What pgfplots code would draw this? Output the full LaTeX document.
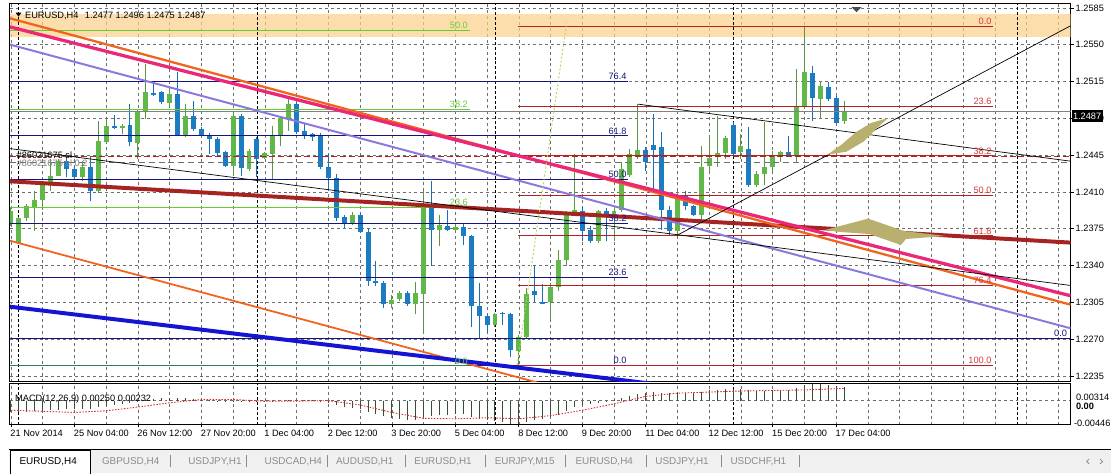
\documentclass[border=0pt]{standalone}
\usepackage{pgfplots}
\pgfplotsset{compat=1.18}
\usepackage{pgfplotstable}
\usepackage{fontspec}
\setmainfont{Liberation Sans}
\newcommand{\lbl}{\fontsize{9.3}{10}\selectfont}
\newcommand{\tabf}{\fontsize{10}{11}\selectfont}

\definecolor{bandcol}{RGB}{250,208,136}
\definecolor{limeg}{RGB}{102,204,51}
\definecolor{dkgreen}{RGB}{46,130,87}
\definecolor{navyc}{RGB}{20,20,128}
\definecolor{fibred}{RGB}{178,34,34}
\definecolor{fibredtxt}{RGB}{215,60,60}
\definecolor{orangeA}{RGB}{240,100,30}
\definecolor{magentaA}{RGB}{235,40,120}
\definecolor{purpleA}{RGB}{140,120,220}
\definecolor{darkredA}{RGB}{165,35,35}
\definecolor{blueA}{RGB}{20,20,210}
\definecolor{bullbody}{RGB}{96,184,72}
\definecolor{bullwick}{RGB}{90,150,70}
\definecolor{bearbody}{RGB}{28,124,194}
\definecolor{bearwick}{RGB}{28,110,180}
\definecolor{olivec}{RGB}{185,176,112}
\definecolor{dotgreen}{RGB}{170,220,90}
\definecolor{macdbar}{RGB}{50,80,50}
\definecolor{sigred}{RGB}{220,40,40}
\definecolor{gridc}{RGB}{110,110,110}
\definecolor{tabbg}{RGB}{240,240,240}
\definecolor{tabtxt}{RGB}{140,140,140}

\pgfplotstableread{
n O H L C
-1 1.23802 1.23944 1.23774 1.23915
0 1.23614 1.23859 1.23604 1.23850
1 1.23850 1.23982 1.23821 1.23963
2 1.23944 1.24113 1.23727 1.24019
3 1.24019 1.24180 1.23925 1.24161
4 1.24161 1.24416 1.24104 1.24255
5 1.24255 1.24416 1.24255 1.24397
8 1.24246 1.24397 1.24208 1.24340
10 1.24104 1.24774 1.24085 1.24585
11 1.24576 1.24793 1.24576 1.24727
13 1.24708 1.24746 1.24651 1.24727
15 1.24567 1.24887 1.24416 1.24859
16 1.24859 1.25312 1.24793 1.25048
19 1.24944 1.25095 1.24906 1.25029
21 1.24633 1.24934 1.24623 1.24821
27 1.24350 1.24868 1.24255 1.24821
29 1.24321 1.24510 1.24302 1.24491
31 1.24425 1.24482 1.24416 1.24472
32 1.24463 1.24727 1.24227 1.24633
33 1.24633 1.24821 1.24538 1.24802
34 1.24793 1.25000 1.24680 1.24934
42 1.23802 1.23906 1.23783 1.23878
47 1.23029 1.23123 1.22991 1.23076
48 1.23085 1.23161 1.23066 1.23142
50 1.23029 1.23246 1.22934 1.23142
51 1.23133 1.24104 1.22746 1.23972
53 1.23736 1.23878 1.23585 1.23783
55 1.23736 1.23802 1.23717 1.23765
60 1.22831 1.22944 1.22812 1.22934
63 1.22586 1.22737 1.22454 1.22718
64 1.22718 1.23189 1.22699 1.23133
67 1.23048 1.23236 1.22887 1.23198
68 1.23198 1.23548 1.23161 1.23453
69 1.23453 1.23915 1.23397 1.23906
70 1.23897 1.24463 1.23878 1.23925
73 1.23633 1.23925 1.23614 1.23915
75 1.23868 1.23963 1.23633 1.23915
76 1.23925 1.24387 1.23906 1.24321
77 1.24265 1.24510 1.24246 1.24463
78 1.24434 1.24934 1.24416 1.24500
83 1.23727 1.24104 1.23689 1.24057
86 1.23878 1.24538 1.23831 1.24340
87 1.24350 1.24633 1.24302 1.24425
88 1.24434 1.24821 1.24340 1.24472
89 1.24472 1.24633 1.24416 1.24614
91 1.24482 1.24651 1.24416 1.24538
93 1.24161 1.24302 1.24142 1.24274
94 1.24274 1.24765 1.24161 1.24340
95 1.24340 1.24491 1.24302 1.24453
96 1.24434 1.24491 1.24387 1.24482
98 1.24444 1.25265 1.24387 1.24906
99 1.24906 1.25670 1.24887 1.25236
101 1.24982 1.25152 1.24793 1.25105
104 1.24770 1.24960 1.24750 1.24870
}\bull

\pgfplotstableread{
n O H L C
6 1.24397 1.24434 1.24246 1.24321
7 1.24321 1.24350 1.24227 1.24246
9 1.24340 1.24444 1.24010 1.24104
12 1.24727 1.24831 1.24699 1.24708
14 1.24736 1.24934 1.24538 1.24576
17 1.25038 1.25152 1.25010 1.25019
18 1.25048 1.25057 1.24934 1.24953
20 1.25029 1.25236 1.24633 1.24633
22 1.24821 1.24963 1.24680 1.24699
23 1.24699 1.24717 1.24633 1.24642
24 1.24642 1.24661 1.24463 1.24604
25 1.24604 1.24623 1.24434 1.24472
26 1.24482 1.24491 1.24340 1.24350
28 1.24821 1.24840 1.24255 1.24331
30 1.24604 1.24623 1.24246 1.24416
35 1.24934 1.24953 1.24651 1.24670
36 1.24680 1.24746 1.24604 1.24642
37 1.24651 1.24661 1.24585 1.24623
38 1.24642 1.24661 1.24321 1.24340
39 1.24340 1.24463 1.24132 1.24236
40 1.24236 1.24274 1.23821 1.23850
41 1.23859 1.23878 1.23755 1.23802
43 1.23878 1.23897 1.23708 1.23717
44 1.23717 1.23755 1.23208 1.23255
45 1.23255 1.23444 1.23208 1.23236
46 1.23236 1.23255 1.23000 1.23029
49 1.23142 1.23161 1.23019 1.23029
52 1.23972 1.24199 1.23397 1.23736
54 1.23774 1.23925 1.23727 1.23736
56 1.23765 1.23802 1.23595 1.23680
57 1.23680 1.23689 1.22812 1.23010
58 1.23010 1.23236 1.22708 1.22916
59 1.22916 1.22934 1.22756 1.22831
61 1.22944 1.22953 1.22831 1.22934
62 1.22934 1.22944 1.22529 1.22595
65 1.23161 1.23406 1.23048 1.23123
66 1.23048 1.23227 1.23029 1.23038
71 1.23915 1.23963 1.23633 1.23727
72 1.23736 1.23774 1.23614 1.23633
74 1.23915 1.23944 1.23633 1.23868
79 1.24500 1.24529 1.24302 1.24387
80 1.24548 1.24840 1.24132 1.24500
81 1.24529 1.24670 1.23736 1.23925
82 1.23925 1.23963 1.23689 1.23727
84 1.24057 1.24104 1.23925 1.23963
85 1.23963 1.23972 1.23868 1.23878
90 1.24736 1.24765 1.24444 1.24463
92 1.24510 1.24717 1.24151 1.24161
97 1.24482 1.24633 1.24434 1.24434
100 1.25227 1.25293 1.24774 1.24991
102 1.25095 1.25142 1.24963 1.24982
103 1.24991 1.25010 1.24746 1.24755
}\bear

\pgfplotstableread{
n v
-1 -0.0021
0 -0.0021
1 -0.0021
2 -0.0020
3 -0.0019
4 -0.0018
5 -0.0017
6 -0.0016
7 -0.0016
8 -0.0015
9 -0.0015
10 -0.0012
11 -0.0010
12 -0.0008
13 -0.0007
14 -0.0005
15 -0.0003
16 0.0001
17 0.0003
18 0.0004
19 0.0005
20 0.0004
21 0.0004
22 0.0003
23 0.0002
24 0.0001
25 -0.0001
26 -0.0002
27 -0.0001
28 -0.0002
29 -0.0002
30 -0.0002
31 -0.0002
32 -0.0001
33 0.0000
34 0.0002
35 0.0002
36 0.0001
37 0.0001
38 -0.0001
39 -0.0004
40 -0.0008
41 -0.0011
42 -0.0013
43 -0.0015
44 -0.0021
45 -0.0025
46 -0.0029
47 -0.0032
48 -0.0034
49 -0.0036
50 -0.0037
51 -0.0031
52 -0.0029
53 -0.0027
54 -0.0026
55 -0.0025
56 -0.0025
57 -0.0030
58 -0.0034
59 -0.0037
60 -0.0038
61 -0.0039
62 -0.0043
63 -0.0044
64 -0.0040
65 -0.0037
66 -0.0034
67 -0.0031
68 -0.0026
69 -0.0019
70 -0.0012
71 -0.0009
72 -0.0007
73 -0.0004
74 -0.0002
75 0.0001
76 0.0005
77 0.0009
78 0.0012
79 0.0014
80 0.0016
81 0.0015
82 0.0014
83 0.0015
84 0.0015
85 0.0015
86 0.0017
87 0.0019
88 0.0020
89 0.0022
90 0.0021
91 0.0021
92 0.0019
93 0.0018
94 0.0018
95 0.0019
96 0.0019
97 0.0019
98 0.0023
99 0.0029
100 0.0031
101 0.0031
102 0.0030
103 0.0027
104 0.0025
}\macd

\pgfplotstableread{
n s
-1 -0.0018
3 -0.0020
7 -0.0022
11 -0.0019
15 -0.0012
19 -0.0004
23 0.0002
27 0.0002
31 -0.0001
35 -0.0001
39 0.0000
43 -0.0008
47 -0.0022
51 -0.0033
55 -0.0034
59 -0.0032
63 -0.0034
67 -0.0028
71 -0.0018
75 -0.0006
79 0.0008
83 0.0014
87 0.0016
91 0.0018
95 0.0019
99 0.0020
104 0.0023
}\signal

\begin{document}
\begin{tikzpicture}[x=1pt,y=1pt]
\fill[white] (0,0) rectangle (1111,472);

% ================= main price pane =================
\begin{axis}[
  name=main,
  at={(1.5,87)}, anchor=south west,
  scale only axis, width=1069.5pt, height=382pt,
  xmin=-1.15, xmax=132.5375, ymin=1.222929, ymax=1.258967,
  axis line style={black, line width=0.8pt},
  xtick={-1,3,...,131}, xticklabels={}, xtick style={draw=none},
  ytick={1.2235,1.2270,1.2305,1.2340,1.2375,1.2410,1.2445,1.2480,1.2515,1.2550,1.2585},
  yticklabels={1.2235,1.2270,1.2305,1.2340,1.2375,1.2410,1.2445,1.2480,1.2515,1.2550,1.2585},
  ytick pos=right, yticklabel pos=right,
  tick align=outside, major tick length=3pt,
  ytick style={black, line width=0.6pt},
  yticklabel style={anchor=west, font=\lbl, inner sep=0pt, xshift=2pt},
  scaled y ticks=false,
  grid=major,
  grid style={gridc, line width=0.5pt, dash pattern=on 3pt off 3pt},
]
% background band (translucent so the grid shows through)
\addplot[draw=none, fill=bandcol, fill opacity=0.7, forget plot]
  coordinates {(-1.15,1.25576) (132.5375,1.25576) (132.5375,1.25793) (-1.15,1.25793)} -- cycle;
% week separators
\addplot[black, line width=0.9pt, dash pattern=on 3pt off 2pt, forget plot] coordinates {(0,1.222929) (0,1.258967)};
\addplot[black, line width=0.9pt, dash pattern=on 3pt off 2pt, forget plot] coordinates {(30,1.222929) (30,1.258967)};
\addplot[black, line width=0.9pt, dash pattern=on 3pt off 2pt, forget plot] coordinates {(60,1.222929) (60,1.258967)};
\addplot[black, line width=0.9pt, dash pattern=on 3pt off 2pt, forget plot] coordinates {(90,1.222929) (90,1.258967)};
\addplot[black, line width=0.9pt, dash pattern=on 3pt off 2pt, forget plot] coordinates {(125.9,1.222929) (125.9,1.258967)};

% candles: wicks and bodies
\addplot[draw=none, forget plot, error bars/.cd, y dir=plus, y explicit, error mark=none,
  error bar style={draw=bullwick, line width=1pt}]
  table[x=n, y=L, y error expr=\thisrow{H}-\thisrow{L}] {\bull};
\addplot[draw=none, forget plot, error bars/.cd, y dir=plus, y explicit, error mark=none,
  error bar style={draw=bearwick, line width=1pt}]
  table[x=n, y=L, y error expr=\thisrow{H}-\thisrow{L}] {\bear};
\addplot[draw=none, forget plot, error bars/.cd, y dir=plus, y explicit, error mark=none,
  error bar style={draw=bullbody, line width=5pt, line cap=butt}]
  table[x=n, y=O, y error expr=\thisrow{C}-\thisrow{O}] {\bull};
\addplot[draw=none, forget plot, error bars/.cd, y dir=plus, y explicit, error mark=none,
  error bar style={draw=bearbody, line width=5pt, line cap=butt}]
  table[x=n, y=C, y error expr=\thisrow{O}-\thisrow{C}] {\bear};

% bid line and order lines
\addplot[gray, line width=0.7pt, forget plot] coordinates {(-1.15,1.2487) (132.5375,1.2487)};
\addplot[fibred, line width=0.8pt, dash pattern=on 6pt off 3pt, forget plot] coordinates {(-1.15,1.24440) (132.5375,1.24440)};
\addplot[gridc, line width=0.8pt, dash pattern=on 6pt off 4pt, forget plot] coordinates {(-1.15,1.24378) (132.5375,1.24378)};

% navy fibonacci levels
\addplot[navyc, line width=0.9pt, forget plot] coordinates {(-1.15,1.25149) (76.79,1.25149)};
\addplot[navyc, line width=0.9pt, forget plot] coordinates {(-1.15,1.24633) (76.79,1.24633)};
\addplot[navyc, line width=0.9pt, forget plot] coordinates {(-1.15,1.24216) (76.79,1.24216)};
\addplot[navyc, line width=0.9pt, forget plot] coordinates {(-1.15,1.23800) (76.79,1.23800)};
\addplot[navyc, line width=0.9pt, forget plot] coordinates {(-1.15,1.23284) (76.79,1.23284)};
\addplot[navyc, line width=0.9pt, forget plot] coordinates {(-1.15,1.22449) (76.79,1.22449)};
\addplot[navyc, line width=0.8pt, forget plot] coordinates {(-1.15,1.227108) (132.5375,1.227108)};
% green fibonacci levels
\addplot[limeg, line width=0.9pt, forget plot] coordinates {(-1.15,1.25636) (56.79,1.25636)};
\addplot[limeg, line width=0.9pt, forget plot] coordinates {(-1.15,1.24883) (56.79,1.24883)};
\addplot[limeg, line width=0.9pt, forget plot] coordinates {(-1.15,1.23951) (56.79,1.23951)};
\addplot[dkgreen, line width=0.9pt, forget plot] coordinates {(-1.15,1.22445) (56.79,1.22445)};
% red fibonacci levels
\addplot[fibred, line width=0.9pt, forget plot] coordinates {(62.9,1.25675) (122.79,1.25675)};
\addplot[fibred, line width=0.9pt, forget plot] coordinates {(62.9,1.24914) (122.79,1.24914)};
\addplot[fibred, line width=0.9pt, forget plot] coordinates {(62.9,1.24443) (122.79,1.24443)};
\addplot[fibred, line width=0.9pt, forget plot] coordinates {(62.9,1.24063) (122.79,1.24063)};
\addplot[fibred, line width=0.9pt, forget plot] coordinates {(62.9,1.23682) (122.79,1.23682)};
\addplot[fibred, line width=0.9pt, forget plot] coordinates {(62.9,1.23211) (122.79,1.23211)};
\addplot[fibred, line width=0.9pt, forget plot] coordinates {(62.9,1.22450) (122.79,1.22450)};

% trend lines
\addplot[orangeA, line width=1.8pt, forget plot] coordinates {(-1.15,1.236358) (73.6625,1.221174)};
\addplot[blueA, line width=4pt, forget plot] coordinates {(-1.15,1.230080) (86.1625,1.222174)};
\addplot[darkredA, line width=4pt, forget plot] coordinates {(-1.15,1.242005) (132.5375,1.236174)};
\addplot[purpleA, line width=2pt, forget plot] coordinates {(-1.15,1.255014) (132.5375,1.228023)};
\addplot[orangeA, line width=2.3pt, forget plot] coordinates {(-1.15,1.257514) (132.5375,1.230269)};
\addplot[magentaA, line width=3.3pt, forget plot] coordinates {(-1.15,1.256695) (132.5375,1.231118)};
\addplot[black, line width=0.7pt, forget plot] coordinates {(-1.15,1.245118) (132.5375,1.232099)};
\addplot[black, line width=0.7pt, forget plot] coordinates {(78.0375,1.249344) (132.5375,1.243920)};
\addplot[black, line width=0.7pt, forget plot] coordinates {(83,1.236891) (132.5375,1.256797)};
\addplot[dotgreen, line width=0.9pt, dash pattern=on 2pt off 2pt, forget plot] coordinates {(62.79,1.224533) (69.04,1.257080)};

% olive shapes
\addplot[draw=none, fill=olivec, forget plot] coordinates {
 (101.91,1.244538) (103.66,1.245481) (105.54,1.246708) (107.41,1.247557) (109.54,1.248028)
 (108.04,1.246991) (106.41,1.245764) (104.29,1.244821)} -- cycle;
\addplot[draw=none, fill=olivec, forget plot] coordinates {
 (101.54,1.237368) (107.04,1.238453) (111.54,1.237274) (116.79,1.236802) (111.79,1.236519)
 (111.16,1.235953) (107.16,1.236990) (103.66,1.237179)} -- cycle;

% level labels
\begin{scope}[every node/.style={font=\lbl, inner sep=1.5pt, anchor=south east}]
\node[text=limeg] at (axis cs:56.79,1.25636) {50.0};
\node[text=limeg] at (axis cs:56.79,1.24883) {38.2};
\node[text=limeg] at (axis cs:56.79,1.23951) {23.6};
\node[text=limeg] at (axis cs:56.79,1.22445) {0.0};
\node[text=navyc] at (axis cs:76.79,1.25149) {76.4};
\node[text=navyc] at (axis cs:76.79,1.24633) {61.8};
\node[text=navyc] at (axis cs:76.79,1.24216) {50.0};
\node[text=navyc] at (axis cs:76.79,1.23800) {38.2};
\node[text=navyc] at (axis cs:76.79,1.23284) {23.6};
\node[text=navyc] at (axis cs:76.79,1.22449) {0.0};
\node[text=navyc] at (axis cs:132.3,1.227108) {0.0};
\node[text=fibredtxt] at (axis cs:122.79,1.25675) {0.0};
\node[text=fibredtxt] at (axis cs:122.79,1.24914) {23.6};
\node[text=fibredtxt] at (axis cs:122.79,1.24443) {38.2};
\node[text=fibredtxt] at (axis cs:122.79,1.24063) {50.0};
\node[text=fibredtxt] at (axis cs:122.79,1.23682) {61.8};
\node[text=fibredtxt] at (axis cs:122.79,1.23211) {76.4};
\node[text=fibredtxt] at (axis cs:122.79,1.22450) {100.0};
\end{scope}
\end{axis}

% ================= MACD pane =================
\begin{axis}[
  name=macdax,
  at={(main.south west)}, anchor=north west, yshift=-2pt,
  scale only axis, width=1069.5pt, height=41pt,
  xmin=-1.15, xmax=132.5375, ymin=-0.00446, ymax=0.00314,
  axis line style={black, line width=0.8pt},
  xtick={-1,7,...,103},
  xticklabels={21 Nov 2014,25 Nov 04:00,26 Nov 12:00,27 Nov 20:00,1 Dec 04:00,2 Dec 12:00,3 Dec 20:00,5 Dec 04:00,8 Dec 12:00,9 Dec 20:00,11 Dec 04:00,12 Dec 12:00,15 Dec 20:00,17 Dec 04:00},
  extra x ticks={3,11,...,131,111,119,127}, extra x tick labels={},
  extra x tick style={grid=major, tick style={draw=none}},
  xtick pos=bottom, tick align=outside, major tick length=3pt,
  xtick style={black, line width=0.6pt},
  xticklabel style={anchor=north west, font=\lbl, inner sep=0pt, xshift=-0.7pt, yshift=-2pt},
  ytick={0}, yticklabels={}, ytick style={draw=none},
  scaled y ticks=false, scaled x ticks=false,
  xmajorgrids, ymajorgrids,
  grid style={gridc, line width=0.5pt, dash pattern=on 3pt off 3pt},
]
\addplot[black, line width=0.9pt, dash pattern=on 3pt off 2pt, forget plot] coordinates {(0,-0.00446) (0,0.00314)};
\addplot[black, line width=0.9pt, dash pattern=on 3pt off 2pt, forget plot] coordinates {(30,-0.00446) (30,0.00314)};
\addplot[black, line width=0.9pt, dash pattern=on 3pt off 2pt, forget plot] coordinates {(60,-0.00446) (60,0.00314)};
\addplot[black, line width=0.9pt, dash pattern=on 3pt off 2pt, forget plot] coordinates {(90,-0.00446) (90,0.00314)};
\addplot[black, line width=0.9pt, dash pattern=on 3pt off 2pt, forget plot] coordinates {(125.9,-0.00446) (125.9,0.00314)};
\addplot[ycomb, draw=macdbar, line width=1pt, forget plot] table[x=n, y=v] {\macd};
\addplot[sigred, line width=0.9pt, dash pattern=on 1.5pt off 1.5pt, forget plot] table[x=n, y=s] {\signal};
\end{axis}

% ================= texts around =================
\fill[black] (7,464.5) -- (13,464.5) -- (10,460.5) -- cycle;
\node[anchor=west, font=\lbl, inner sep=0pt] at (16.5,461.5) {EURUSD,H4\hspace{4pt} 1.2477 1.2496 1.2475 1.2487};
\fill[gray!60!black] (850,470) -- (860,470) -- (855,465) -- cycle;
\node[anchor=west, font=\lbl, inner sep=0pt] at (8,321) {\#86021675 sl};
\node[anchor=west, font=\lbl, inner sep=0pt, text=gray] at (8,313) {\#86021675 sl 0.2};
\node[anchor=west, font=\lbl, fill=black, text=white, inner sep=1.5pt, minimum height=12pt] at (1071.5,360.2) {1.2487};
\node[anchor=west, font=\lbl, inner sep=0pt] at (6.5,75.3) {MACD(12,26,9) 0.00250 0.00232};
\node[anchor=west, font=\lbl, inner sep=0pt] at (1076,77) {0.00314};
\node[anchor=west, font=\lbl\bfseries, inner sep=0pt] at (1076,68) {0.00};
\node[anchor=west, font=\lbl, inner sep=0pt] at (1074,50.5) {-0.00446};

% ================= tab bar =================
\fill[tabbg] (0,0) rectangle (1111,23.7);
\draw[black, line width=1pt] (0,23.7) -- (1111,23.7);
\filldraw[fill=white, draw=black, line width=1pt] (2,-0.5) -- (2,23.2) -- (82.5,23.2) -- (82.5,-0.5);
\begin{scope}[every node/.style={anchor=west, font=\tabf, inner sep=0pt}]
\node at (10.8,12) {EURUSD,H4};
\node[text=tabtxt] at (94,12) {GBPUSD,H4};
\node[text=tabtxt] at (181,12) {USDJPY,H1};
\node[text=tabtxt] at (258,12) {USDCAD,H4};
\node[text=tabtxt] at (330,12) {AUDUSD,H1};
\node[text=tabtxt] at (409,12) {EURUSD,H1};
\node[text=tabtxt] at (490,12) {EURJPY,M15};
\node[text=tabtxt] at (571.5,12) {EURUSD,H4};
\node[text=tabtxt] at (652,12) {USDJPY,H1};
\node[text=tabtxt] at (727.7,12) {USDCHF,H1};
\end{scope}
\foreach \sx in {163,240,321,400,481,561,642.6,718.7,797.7}{
  \draw[tabtxt, line width=0.8pt] (\sx,6) -- (\sx,18);
}
\draw[tabtxt, line width=0.8pt] (1089.5,14.5) -- (1087,12) -- (1089.5,9.5);
\draw[tabtxt, line width=0.8pt] (1100.5,14.5) -- (1103,12) -- (1100.5,9.5);
\end{tikzpicture}
\end{document}
